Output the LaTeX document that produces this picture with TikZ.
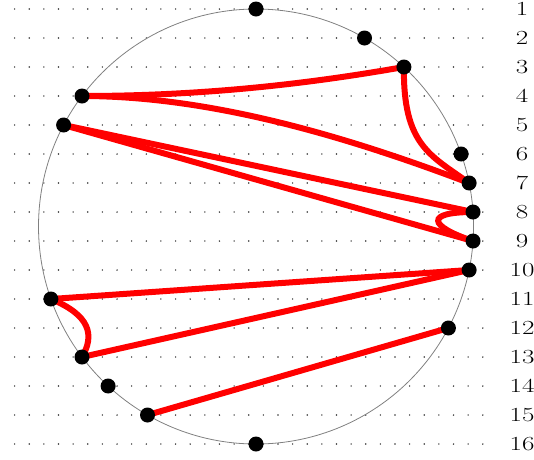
\documentclass[tikz,border=0pt]{standalone}
\begin{document}
\begin{tikzpicture}[x=1pt,y=-1pt,
  pt/.style={circle,fill=black,inner sep=0pt,minimum size=15pt},
  lbl/.style={inner sep=0pt,font=\fontsize{20}{24}\selectfont},
  link/.style={red,line width=6pt,line cap=round},
  gdot/.style={fill=black!80}]
\useasboundingbox (0,0) rectangle (534,459);
% dotted rows
\foreach \r in {1,...,16}{
  \foreach \k in {1,...,33}{
    \fill[gdot] ({14.63*\k},{9+29*(\r-1)}) circle (0.8pt);
  }
}
% circle
\draw[gray,line width=0.8pt] (256,226.5) circle (217.5);
% points
\foreach \i/\x in {1/256,2/364.5,3/403.9,4/82,5/63.6,6/461.1,7/469.1,8/473,9/473,10/469.1,11/50.9,12/448.4,13/82,14/108.1,15/147.5,16/256}{
  \coordinate (c\i) at (\x,{9+29*(\i-1)});
  \node[lbl] (l\i) at (522,{9+29*(\i-1)}) {\scalebox{1.35}[1]{\i}};
}
% links
\draw[link] (c4) .. controls (220,96) and (330,80) .. (c3);
\draw[link] (c3) .. controls (403,145) and (430,155) .. (c7);
\draw[link] (c4) .. controls (200,96) and (330,130) .. (c7);
\draw[link] (c5) -- (c8);
\draw[link] (c5) -- (c9);
\draw[link] (c8) .. controls (425,212) and (428,226) .. (c9);
\draw[link] (c11) -- (c10);
\draw[link] (c13) -- (c10);
\draw[link] (c11) .. controls (90,315) and (95,335) .. (c13);
\draw[link] (c15) -- (c12);
% dots on top
\foreach \i in {1,...,16}{
  \node[pt] (p\i) at (c\i) {};
}
\end{tikzpicture}
\end{document}
